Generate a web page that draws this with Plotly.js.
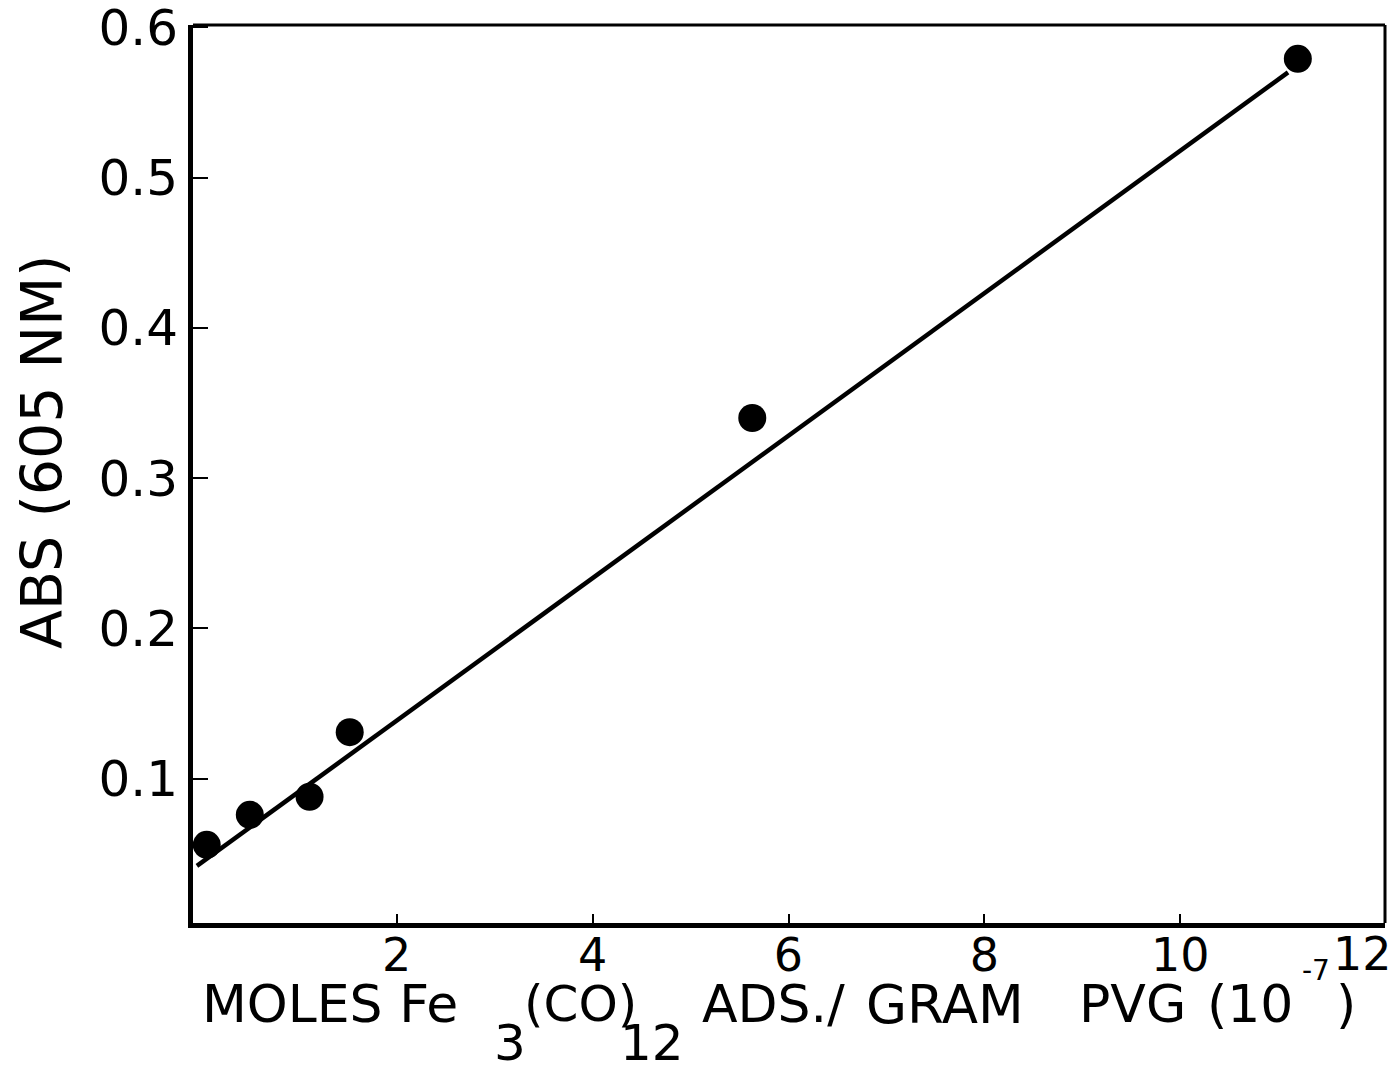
<!DOCTYPE html>
<html>
<head>
<meta charset="utf-8">
<script src="https://cdn.plot.ly/plotly-3.0.1.min.js"></script>
<style>html,body{margin:0;padding:0;background:#fff;}#chart{width:1396px;height:1071px;}</style>
</head>
<body>
<div id="chart"></div>
<script>
// ---- data ----
const molesAds = [0.06, 0.50, 1.11, 1.52, 5.63, 11.2];        // x, 10^-7 mol / g PVG
const absorbance = [0.056, 0.076, 0.088, 0.131, 0.340, 0.579]; // ABS at 605 nm
const fitLineX = [-0.04, 11.1];
const fitLineY = [0.042, 0.570];
const xTickVals = [2, 4, 6, 8, 10, 12];
const xTickText = ['2', '4', '6', '8', '10', '12'];
const yTickVals = [0.1, 0.2, 0.3, 0.4, 0.5, 0.6];
const yTickText = ['0.1', '0.2', '0.3', '0.4', '0.5', '0.6'];
const yTitle = 'ABS (605 NM)';
const xTitleParts = ['MOLES Fe', '3', '(CO)', '12', 'ADS./', 'GRAM', 'PVG', '(10', '-7', ')'];

// ---- layout helpers ----
const W = 1396, H = 1071;
const M = {l: 193, r: 11, t: 25, b: 148};
const PW = W - M.l - M.r, PH = H - M.t - M.b;
const px = v => (v - M.l) / PW;
const py = v => (H - M.b - v) / PH;
const FONT = '"DejaVu Sans", "Liberation Sans", sans-serif';

function ann(text, x, y, size, xanchor) {
  return {text: text, xref: 'paper', yref: 'paper', x: px(x), y: py(y),
    xanchor: xanchor || 'left', yanchor: 'middle', showarrow: false,
    font: {family: FONT, size: size, color: '#000'}};
}

const traces = [
  {x: fitLineX, y: fitLineY, mode: 'lines', type: 'scatter',
   line: {color: '#000', width: 4.5}, hoverinfo: 'skip', showlegend: false},
  {x: molesAds, y: absorbance, mode: 'markers', type: 'scatter',
   marker: {color: '#000', size: 28}, showlegend: false}
];

const nX = xTickVals.length;
const lastXTick = {
  text: xTickText[nX - 1], xref: 'x', yref: 'paper', x: xTickVals[nX - 1], y: py(954),
  xanchor: 'center', yanchor: 'middle', xshift: -14, showarrow: false,
  font: {family: FONT, size: 46, color: '#000'}
};

const layout = {
  width: W, height: H,
  margin: M,
  paper_bgcolor: '#fff', plot_bgcolor: '#fff',
  showlegend: false,
  font: {family: FONT, color: '#000'},
  xaxis: {
    range: [-0.08, 12.09], showgrid: false, zeroline: false,
    showline: true, linecolor: '#000', linewidth: 5,
    ticks: 'inside', ticklen: 9, tickwidth: 2, tickcolor: '#000',
    tickvals: xTickVals.slice(0, nX - 1), ticktext: xTickText.slice(0, nX - 1),
    ticklabelstandoff: -12,
    tickfont: {family: FONT, size: 46, color: '#000'}
  },
  yaxis: {
    range: [0.004, 0.6015], showgrid: false, zeroline: false,
    showline: true, linecolor: '#000', linewidth: 5,
    ticks: 'inside', ticklen: 15, tickwidth: 2, tickcolor: '#000',
    tickvals: yTickVals, ticktext: yTickText,
    ticklabeloverflow: 'allow',
    tickfont: {family: FONT, size: 50, color: '#000'}
  },
  shapes: [
    {type: 'line', xref: 'paper', yref: 'paper', x0: 0, x1: 1, y0: 1, y1: 1, line: {color: '#000', width: 3}},
    {type: 'line', xref: 'paper', yref: 'paper', x0: 1, x1: 1, y0: 0, y1: 1, line: {color: '#000', width: 3}}
  ],
  annotations: [
    Object.assign(ann(yTitle, 42, 452, 57, 'center'), {textangle: -90}),
    lastXTick,
    ann(xTitleParts[0], 200, 1004, 52, 'left'),
    ann(xTitleParts[1], 510, 1043, 50, 'center'),
    ann(xTitleParts[2], 522, 1004, 50, 'left'),
    ann(xTitleParts[3], 652, 1043, 50, 'center'),
    ann(xTitleParts[4], 700, 1004, 52, 'left'),
    ann(xTitleParts[5], 864, 1004, 53, 'left'),
    ann(xTitleParts[6], 1077, 1004, 52, 'left'),
    ann(xTitleParts[7], 1205, 1004, 52, 'left'),
    ann(xTitleParts[8], 1316, 970, 28, 'center'),
    ann(xTitleParts[9], 1334, 1004, 52, 'left')
  ]
};

Plotly.newPlot('chart', traces, layout, {displayModeBar: false, staticPlot: true});
</script>
</body>
</html>
